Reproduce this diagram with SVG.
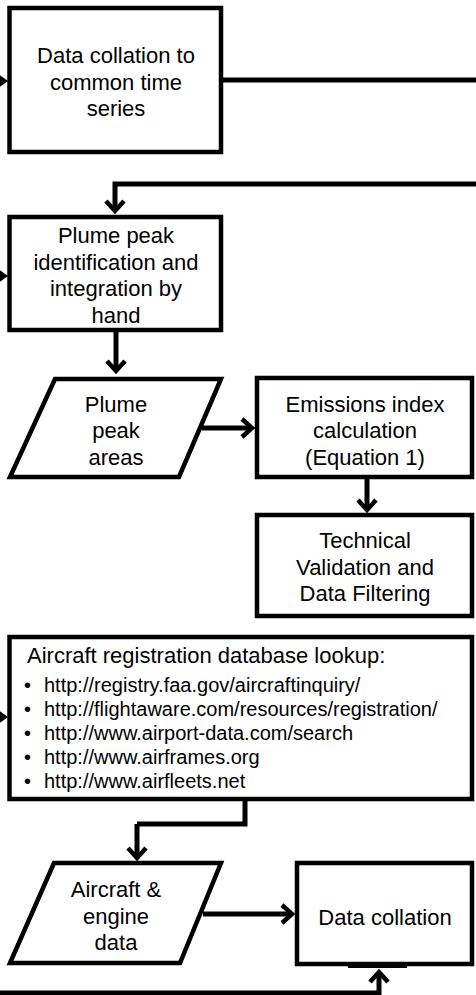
<svg xmlns="http://www.w3.org/2000/svg" width="476" height="995" viewBox="0 0 476 995">
<style>
.box{fill:#fff;stroke:#000;stroke-width:4.5;stroke-linejoin:miter}
.t{font-family:"Liberation Sans",Arial,sans-serif;font-size:22px;fill:#000;text-anchor:middle}
.tl{font-family:"Liberation Sans",Arial,sans-serif;font-size:22px;fill:#000}
.b{font-family:"Liberation Sans",Arial,sans-serif;font-size:20px;fill:#000}
.ln{fill:none;stroke:#000;stroke-width:5;stroke-linejoin:miter}
.arr{marker-end:url(#v)}
</style>
<defs>
<marker id="v" markerUnits="userSpaceOnUse" markerWidth="30" markerHeight="30" viewBox="-15 -15 30 30" refX="0" refY="0" orient="auto" overflow="visible">
<path d="M-10,-9 L0,0 L-10,9" fill="none" stroke="#000" stroke-width="4.5"/>
</marker>
</defs>
<rect width="476" height="995" fill="#fff"/>
<g id="connectors">
<path class="ln" d="M221 80 H480"/>
<path class="ln arr" d="M480 184 H115 V211"/>
<path class="ln arr" d="M116 332 V371"/>
<path class="ln arr" d="M202 428 H252"/>
<path class="ln arr" d="M367 479 V510"/>
<path class="ln" d="M245 801 V824 H137"/>
<path class="ln arr" d="M137 824 V858"/>
<path class="ln arr" d="M203 914 H292"/>
<path class="ln arr" d="M-5 993 H379 V972"/>
<rect x="348" y="962" width="59" height="6" fill="#000"/>
<path class="ln" d="M-10 81 H2"/>
<polygon points="-3,73 8,81 -3,89" fill="#000"/>
<path class="ln" d="M-10 276 H2"/>
<polygon points="-3,268 8,276 -3,284" fill="#000"/>
<path class="ln" d="M-10 717 H2"/>
<polygon points="-3,709 8,717 -3,725" fill="#000"/>
</g>
<g id="n1">
<rect class="box" x="9.5" y="8" width="211.5" height="144"/>
<text class="t" x="116" y="63">Data collation to</text>
<text class="t" x="116" y="89.5">common time</text>
<text class="t" x="116" y="116">series</text>
</g>
<g id="n2">
<rect class="box" x="9.5" y="217" width="211.5" height="113"/>
<text class="t" x="116" y="243">Plume peak</text>
<text class="t" x="116" y="269.5">identification and</text>
<text class="t" x="116" y="296">integration by</text>
<text class="t" x="116" y="322.5">hand</text>
</g>
<g id="n3">
<polygon class="box" points="55,379 221,379 179,477 10,477"/>
<text class="t" x="116" y="412">Plume</text>
<text class="t" x="116" y="438">peak</text>
<text class="t" x="116" y="465">areas</text>
</g>
<g id="n4">
<rect class="box" x="257" y="378" width="215" height="99"/>
<text class="t" x="365" y="412">Emissions index</text>
<text class="t" x="365" y="438">calculation</text>
<text class="t" x="365" y="465">(Equation 1)</text>
</g>
<g id="n5">
<rect class="box" x="257" y="515" width="215" height="101"/>
<text class="t" x="365" y="548">Technical</text>
<text class="t" x="365" y="574.5">Validation and</text>
<text class="t" x="365" y="601">Data Filtering</text>
</g>
<g id="n6">
<rect class="box" x="9.5" y="637" width="462.5" height="162"/>
<text class="tl" x="27" y="663">Aircraft registration database lookup:</text>
<text class="b" x="24" y="692">•</text><text class="b" x="44" y="692">http://registry.faa.gov/aircraftinquiry/</text>
<text class="b" x="24" y="716">•</text><text class="b" x="44" y="716">http://flightaware.com/resources/registration/</text>
<text class="b" x="24" y="740">•</text><text class="b" x="44" y="740">http://www.airport-data.com/search</text>
<text class="b" x="24" y="764">•</text><text class="b" x="44" y="764">http://www.airframes.org</text>
<text class="b" x="24" y="788">•</text><text class="b" x="44" y="788">http://www.airfleets.net</text>
</g>
<g id="n7">
<polygon class="box" points="54,863 221,863 180,963 10,963"/>
<text class="t" x="116" y="897">Aircraft &amp;</text>
<text class="t" x="116" y="924">engine</text>
<text class="t" x="116" y="950">data</text>
</g>
<g id="n8">
<rect class="box" x="297" y="863" width="175" height="101"/>
<text class="t" x="385" y="925">Data collation</text>
</g>
</svg>
